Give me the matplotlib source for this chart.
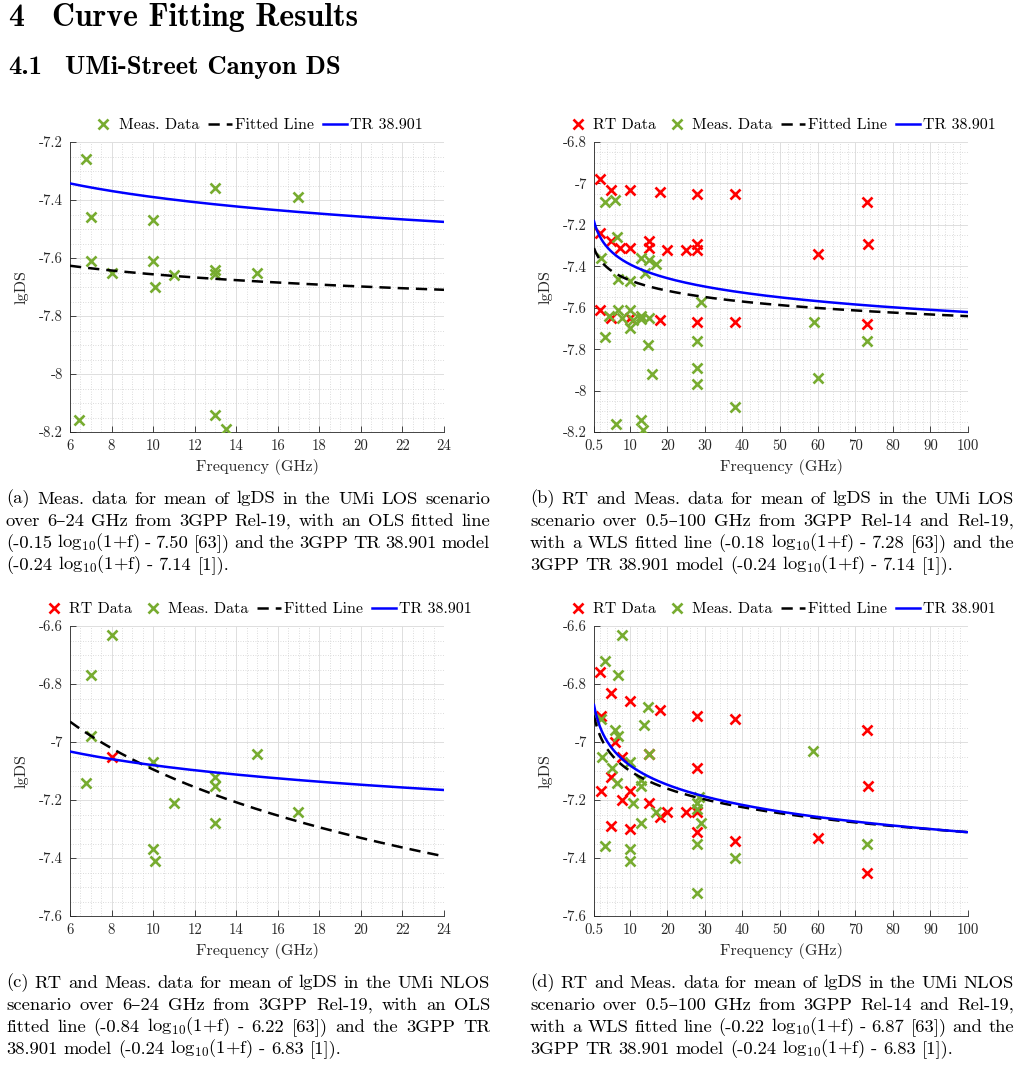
import numpy as np
import matplotlib
matplotlib.use("Agg")
import matplotlib.pyplot as plt
from matplotlib.ticker import MultipleLocator

plt.rcParams['font.family'] = ['cmr10', 'DejaVu Serif']
plt.rcParams['mathtext.fontset'] = 'cm'
plt.rcParams['axes.unicode_minus'] = False
plt.rcParams['axes.formatter.use_mathtext'] = False

# ---------------- data ----------------
# (a) UMi LOS, 6-24 GHz
a_meas_f = [6.75, 7, 7, 8, 10, 10, 10.1, 11, 13, 13, 13, 15, 16.95, 6.45, 13, 13.5]
a_meas_y = [-7.26, -7.46, -7.61, -7.65, -7.47, -7.61, -7.70, -7.66, -7.36, -7.64,
            -7.655, -7.65, -7.39, -8.16, -8.14, -8.19]

# (b) UMi LOS, 0.5-100 GHz
b_rt_f = [2, 5, 10, 18, 28, 38, 73,
          2, 5, 7.5, 10, 15, 15, 20, 25, 28, 28, 60, 73.5,
          2, 5, 10, 18, 28, 38, 73]
b_rt_y = [-6.98, -7.03, -7.03, -7.04, -7.05, -7.05, -7.09,
          -7.24, -7.28, -7.31, -7.31, -7.28, -7.31, -7.32, -7.32, -7.29, -7.32, -7.34, -7.29,
          -7.61, -7.65, -7.65, -7.66, -7.67, -7.67, -7.68]
b_meas_f = [3.5, 6, 6.75, 2.4, 13, 15.2, 16.95, 14, 7, 10,
            4.5, 7, 8, 10, 10.1, 11, 13, 13, 15, 3.3, 14.8, 16, 6.45, 13, 13.5,
            29, 28, 28, 28, 38, 59, 60, 73]
b_meas_y = [-7.09, -7.08, -7.26, -7.36, -7.36, -7.37, -7.39, -7.43, -7.46, -7.47,
            -7.64, -7.61, -7.65, -7.61, -7.70, -7.66, -7.64, -7.655, -7.65, -7.74, -7.78, -7.92,
            -8.16, -8.14, -8.19, -7.57, -7.76, -7.89, -7.97, -8.08, -7.67, -7.94, -7.76]

# (c) UMi NLOS, 6-24 GHz
c_rt_f = [8]
c_rt_y = [-7.05]
c_meas_f = [8, 7, 7, 6.75, 10, 11, 13, 13, 13, 15, 16.95, 10, 10.1]
c_meas_y = [-6.63, -6.77, -6.98, -7.14, -7.07, -7.21, -7.12, -7.15, -7.28, -7.04, -7.24, -7.37, -7.41]

# (d) UMi NLOS, 0.5-100 GHz
d_rt_f = [2, 5, 10, 18, 28, 38, 73, 2.4, 6, 8, 28, 5, 2.4, 10, 8, 15,
          18, 20, 25, 28, 28, 5, 10, 38, 60, 73, 73.5, 15]
d_rt_y = [-6.76, -6.83, -6.86, -6.89, -6.91, -6.92, -6.96, -6.91, -7.00, -7.05, -7.09, -7.12,
          -7.17, -7.17, -7.20, -7.21, -7.26, -7.24, -7.24, -7.24, -7.31, -7.29, -7.30,
          -7.34, -7.33, -7.45, -7.15, -7.04]
d_meas_f = [8, 3.4, 7, 14.8, 13.9, 2.4, 6.1, 7, 15, 2.7, 5.2, 10, 6.75, 13, 13, 11,
            16.95, 13, 28.5, 28, 28, 29, 3.4, 10, 10.1, 28, 38, 28, 58.8, 73]
d_meas_y = [-6.63, -6.72, -6.77, -6.88, -6.94, -6.92, -6.96, -6.98, -7.04, -7.05, -7.09,
            -7.07, -7.14, -7.13, -7.15, -7.21, -7.24, -7.28, -7.19, -7.21, -7.23, -7.28,
            -7.36, -7.37, -7.41, -7.35, -7.40, -7.52, -7.03, -7.35]

# model coefficients: slope, intercept of  slope*log10(1+f) + intercept
fit_a = (-0.15, -7.50)
fit_b = (-0.18, -7.28)
fit_c = (-0.84, -6.22)
fit_d = (-0.22, -6.87)
tr_los = (-0.24, -7.14)
tr_nlos = (-0.24, -6.83)

x_ticks_narrow = [6, 8, 10, 12, 14, 16, 18, 20, 22, 24]
x_ticks_wide = [0.5, 10, 20, 30, 40, 50, 60, 70, 80, 90, 100]
x_labels_wide = ['0.5', '10', '20', '30', '40', '50', '60', '70', '80', '90', '100']
y_ticks_a = [-8.2, -8, -7.8, -7.6, -7.4, -7.2]
y_ticks_b = [-8.2, -8, -7.8, -7.6, -7.4, -7.2, -7, -6.8]
y_ticks_cd = [-7.6, -7.4, -7.2, -7, -6.8, -6.6]

captions = {
    'a': ["(a) Meas. data for mean of lgDS in the UMi LOS scenario",
          "over 6\u201324 GHz from 3GPP Rel-19, with an OLS fitted line",
          "(-0.15 log$_{10}$(1+f) - 7.50 [63]) and the 3GPP TR 38.901 model",
          "(-0.24 log$_{10}$(1+f) - 7.14 [1])."],
    'b': ["(b) RT and Meas. data for mean of lgDS in the UMi LOS",
          "scenario over 0.5\u2013100 GHz from 3GPP Rel-14 and Rel-19,",
          "with a WLS fitted line (-0.18 log$_{10}$(1+f) - 7.28 [63]) and the",
          "3GPP TR 38.901 model (-0.24 log$_{10}$(1+f) - 7.14 [1])."],
    'c': ["(c) RT and Meas. data for mean of lgDS in the UMi NLOS",
          "scenario over 6\u201324 GHz from 3GPP Rel-19, with an OLS",
          "fitted line (-0.84 log$_{10}$(1+f) - 6.22 [63]) and the 3GPP TR",
          "38.901 model (-0.24 log$_{10}$(1+f) - 6.83 [1])."],
    'd': ["(d) RT and Meas. data for mean of lgDS in the UMi NLOS",
          "scenario over 0.5\u2013100 GHz from 3GPP Rel-14 and Rel-19,",
          "with a WLS fitted line (-0.22 log$_{10}$(1+f) - 6.87 [63]) and the",
          "3GPP TR 38.901 model (-0.24 log$_{10}$(1+f) - 6.83 [1])."],
}

# ---------------- figure ----------------
W, H = 1020, 1067
fig = plt.figure(figsize=(W / 100, H / 100), dpi=100)
fig.patch.set_facecolor('white')
R = fig.canvas.get_renderer()

GREEN = '#77AC30'
TXT = '#262626'


def fmt(v):
    s = ('%.1f' % v)
    if s.endswith('.0'):
        s = s[:-2]
    return s


def tw(t):
    return t.get_window_extent(renderer=R).width


def fit_size(txt, target, base=12, **kw):
    t = fig.text(0, 0, txt, fontsize=base, **kw)
    w = tw(t)
    t.remove()
    return base * target / w


LABEL_SIZE = fit_size('Frequency (GHz)', 123)
LEGEND_SIZE = fit_size('TR 38.901', 73)
TICK_SIZE = fit_size('-7.2', 24)


def add_panel(box, xlim, xticks, xlabels, xminor, ylim, yticks, yminor,
              rt, meas, fit, tr):
    l, t, r, b = box
    ax = fig.add_axes([l / W, 1 - b / H, (r - l) / W, (b - t) / H])
    handles = []
    if rt is not None:
        h, = ax.plot(rt[0], rt[1], ls='none', marker='x', ms=7, mew=1.9,
                     color='red', label='RT Data', zorder=3)
        handles.append(h)
    h, = ax.plot(meas[0], meas[1], ls='none', marker='x', ms=7, mew=1.9,
                 color=GREEN, label='Meas. Data', zorder=4)
    handles.append(h)
    f = np.linspace(xlim[0], xlim[1], 600)
    h, = ax.plot(f, fit[0] * np.log10(1 + f) + fit[1], color='black', lw=1.8,
                 ls=(0, (4.5, 2.8)), label='Fitted Line', zorder=5)
    handles.append(h)
    h, = ax.plot(f, tr[0] * np.log10(1 + f) + tr[1], color='#0000FF', lw=1.8,
                 label='TR 38.901', zorder=5)
    handles.append(h)

    ax.set_xlim(*xlim)
    ax.set_ylim(*ylim)
    ax.set_xticks(xticks, xlabels)
    ax.set_yticks(yticks, [fmt(v) for v in yticks])
    ax.xaxis.set_minor_locator(MultipleLocator(xminor))
    ax.yaxis.set_minor_locator(MultipleLocator(yminor))
    ax.tick_params(which='major', direction='in', length=4, width=0.6,
                   colors=TXT, labelsize=TICK_SIZE, pad=5)
    ax.tick_params(which='minor', length=0)
    ax.grid(True, which='major', color='#dedede', lw=0.7, ls='-', zorder=0)
    ax.grid(True, which='minor', color='#d0d0d0', lw=0.6, ls=(0, (1, 2)), zorder=0)
    ax.set_axisbelow(True)
    for s in ['top', 'right']:
        ax.spines[s].set_visible(False)
    for s in ['left', 'bottom']:
        ax.spines[s].set_color(TXT)
        ax.spines[s].set_linewidth(0.6)

    ax.set_xlabel('Frequency (GHz)', fontsize=LABEL_SIZE, color=TXT)
    ax.xaxis.label.set_va('center')
    ax.xaxis.set_label_coords(0.5, -35 / (b - t))
    ax.set_ylabel('lgDS', fontsize=LABEL_SIZE, color=TXT)
    ax.yaxis.label.set_va('center')
    ax.yaxis.set_label_coords(-48 / (r - l), 0.5)

    ax.legend(handles=handles, loc='center', bbox_to_anchor=(0.5, 1.0 + 17 / (b - t)),
              ncol=len(handles), frameon=False, fontsize=LEGEND_SIZE, handlelength=1.5,
              handletextpad=0.2, columnspacing=0.55, borderaxespad=0.0,
              borderpad=0.0)
    return ax


add_panel((70, 142, 444, 432), (6, 24), x_ticks_narrow, [fmt(v) for v in x_ticks_narrow], 0.5,
          (-8.2, -7.2), y_ticks_a, 0.05, None, (a_meas_f, a_meas_y), fit_a, tr_los)
add_panel((594, 142, 968, 432), (0.5, 100), x_ticks_wide, x_labels_wide, 2,
          (-8.2, -6.8), y_ticks_b, 0.05, (b_rt_f, b_rt_y), (b_meas_f, b_meas_y), fit_b, tr_los)
add_panel((70, 626, 444, 916), (6, 24), x_ticks_narrow, [fmt(v) for v in x_ticks_narrow], 0.5,
          (-7.6, -6.6), y_ticks_cd, 0.05, (c_rt_f, c_rt_y), (c_meas_f, c_meas_y), fit_c, tr_nlos)
add_panel((594, 626, 968, 916), (0.5, 100), x_ticks_wide, x_labels_wide, 2,
          (-7.6, -6.6), y_ticks_cd, 0.05, (d_rt_f, d_rt_y), (d_meas_f, d_meas_y), fit_d, tr_nlos)

# ---------------- headings ----------------
hs1 = fit_size("Curve Fitting Results", 306, family='cmb10')
fig.text(8 / W, 1 - 26 / H, "4", family='cmb10', fontsize=hs1, va='baseline', color='black')
fig.text(52 / W, 1 - 26 / H, "Curve Fitting Results", family='cmb10', fontsize=hs1,
         va='baseline', color='black')
hs2 = fit_size("UMi-Street Canyon DS", 276, family='cmb10')
fig.text(8 / W, 1 - 74 / H, "4.1", family='cmb10', fontsize=hs2, va='baseline', color='black')
fig.text(65 / W, 1 - 74 / H, "UMi-Street Canyon DS", family='cmb10', fontsize=hs2,
         va='baseline', color='black')

# ---------------- captions (justified) ----------------
cap_size = fit_size(captions['a'][0], 472, base=12)


def caption(x0, x1, y_first, lines, size, lead=22):
    for i, line in enumerate(lines):
        yb = y_first + i * lead + 4.5
        words = line.split(' ')
        objs = [fig.text(0, 1 - yb / H, w, fontsize=size, va='baseline', color='black')
                for w in words]
        widths = [tw(o) for o in objs]
        if i < len(lines) - 1:
            gap = (x1 - x0 - sum(widths)) / (len(words) - 1)
        else:
            t1 = fig.text(0, 0, 'a a', fontsize=size)
            t2 = fig.text(0, 0, 'aa', fontsize=size)
            gap = tw(t1) - tw(t2)
            t1.remove()
            t2.remove()
        x = x0
        for o, w in zip(objs, widths):
            o.set_x(x / W)
            x += w + gap


caption(6, 490, 499, captions['a'], cap_size)
caption(530, 1014, 499, captions['b'], cap_size)
caption(6, 490, 983, captions['c'], cap_size)
caption(530, 1014, 983, captions['d'], cap_size)

fig.savefig('out.png', dpi=100, facecolor='white')
